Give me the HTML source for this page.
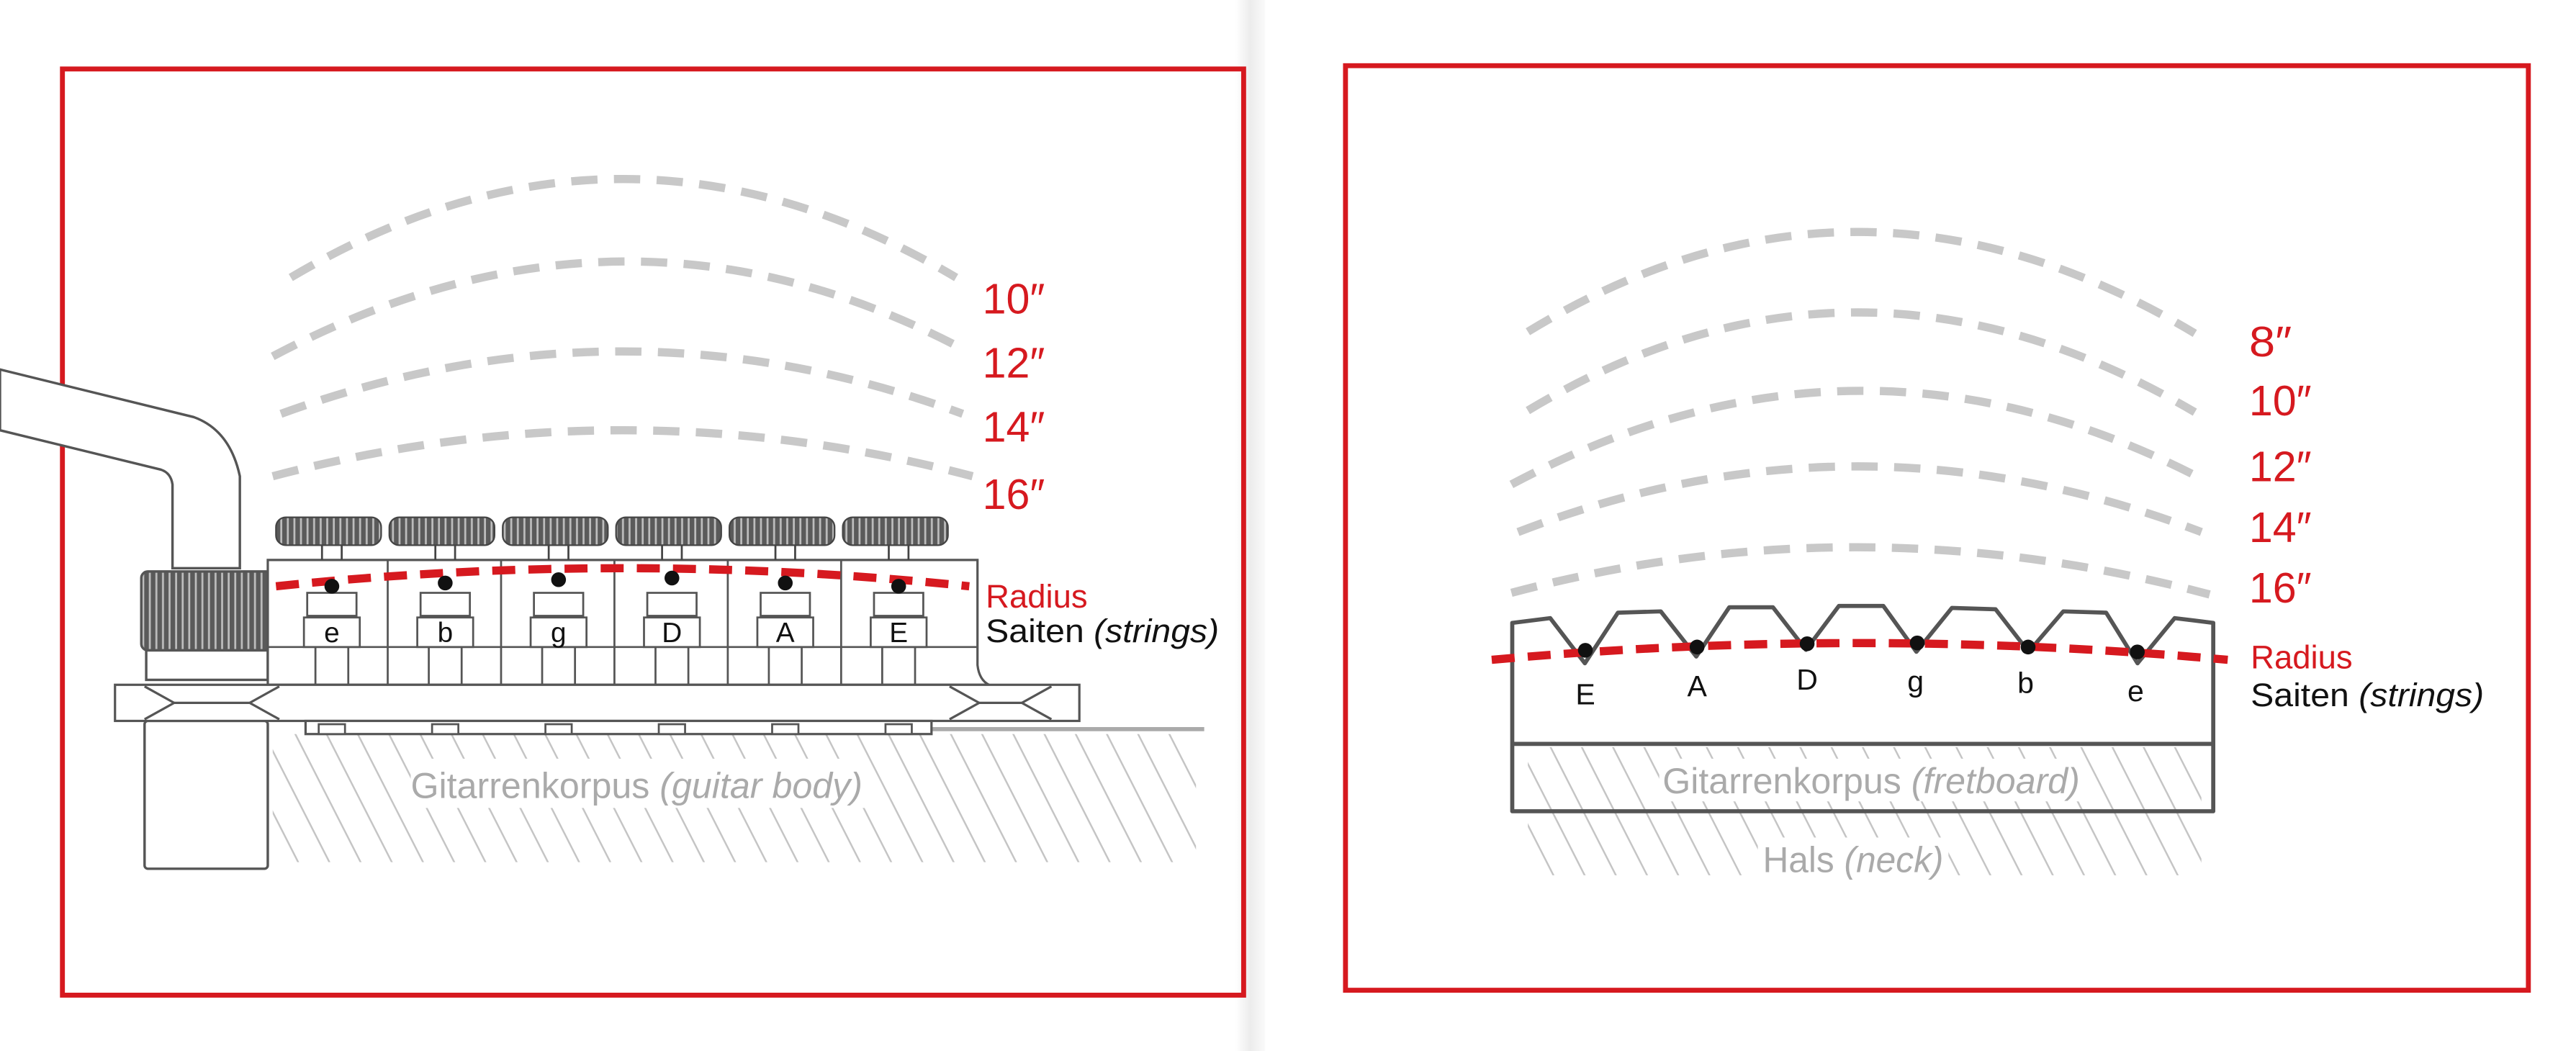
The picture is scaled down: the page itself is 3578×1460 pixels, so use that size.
<!DOCTYPE html>
<html><head><meta charset="utf-8"><style>
html,body{margin:0;padding:0;background:#fff;}
svg{display:block;}
text{font-family:"Liberation Sans",sans-serif;}
</style></head><body>
<svg width="3578" height="1460" viewBox="0 0 1568 640" preserveAspectRatio="none" xmlns="http://www.w3.org/2000/svg">
<defs>
<pattern id="knurl" width="4" height="10" patternUnits="userSpaceOnUse">
<rect width="4" height="10" fill="#5a5a5a"/><rect x="2.6" width="1.2" height="10" fill="#bdbdbd"/>
</pattern>
<pattern id="hatch" width="19" height="80" patternUnits="userSpaceOnUse" patternTransform="skewX(27)">
<line x1="9" y1="0" x2="9" y2="80" stroke="#c4c4c4" stroke-width="1.2"/>
</pattern>
<linearGradient id="edge" x1="0" x2="1"><stop offset="0" stop-color="#fff"/><stop offset="0.5" stop-color="#ececec"/><stop offset="1" stop-color="#fafafa"/></linearGradient>
</defs>
<rect x="752" y="0" width="18" height="640" fill="url(#edge)"/>

<!-- LEFT PANEL -->
<rect x="38" y="42" width="719" height="564" fill="none" stroke="#d6191f" stroke-width="3"/>
<g fill="none" stroke="#c8c8c8" stroke-width="5" stroke-dasharray="16 10">
<path d="M177 169 Q379 49 582 169"/>
<path d="M166 217 Q379 104 585 212"/>
<path d="M171 252 Q379 176 586 252"/>
<path d="M166 290 Q379 234 592 290"/>
</g>
<g fill="#d6191f" font-size="26">
<text x="598" y="191" textLength="38" lengthAdjust="spacingAndGlyphs">10″</text>
<text x="598" y="230" textLength="38" lengthAdjust="spacingAndGlyphs">12″</text>
<text x="598" y="269" textLength="38" lengthAdjust="spacingAndGlyphs">14″</text>
<text x="598" y="310" textLength="38" lengthAdjust="spacingAndGlyphs">16″</text>
<text x="600" y="370" font-size="20" textLength="62" lengthAdjust="spacingAndGlyphs">Radius</text>
</g>
<text x="600" y="391" font-size="20" fill="#111" textLength="142" lengthAdjust="spacingAndGlyphs">Saiten <tspan font-style="italic">(strings)</tspan></text>

<!-- hatch left -->
<rect x="166" y="447" width="562" height="78" fill="url(#hatch)"/>
<rect x="250" y="462" width="278" height="30" fill="#fff"/>
<text x="250" y="486" font-size="22" fill="#aaa" textLength="275" lengthAdjust="spacingAndGlyphs">Gitarrenkorpus <tspan font-style="italic">(guitar body)</tspan></text>
<line x1="567" y1="444" x2="733" y2="444" stroke="#aaa" stroke-width="2.5"/>

<!-- jack arm -->
<g fill="#fff" stroke="#555" stroke-width="1.5">
<path d="M0 225 L118 254 Q140 262 146 290 L146 346 L105 346 L105 295 Q104 288 98 286 L0 262 Z"/>
<rect x="88" y="439" width="75" height="90" rx="2"/>
<rect x="89" y="396" width="74" height="18"/>
<rect x="86" y="348" width="80" height="48" rx="4" fill="url(#knurl)"/>
</g>

<!-- bridge -->
<g stroke="#555" stroke-width="1.4" fill="#fff">
<path d="M163 341 L595 341 L595 405 Q596 414 602 417 L163 417 Z"/>
<rect x="70" y="417" width="587" height="22"/>
<rect x="186" y="439" width="381" height="8"/>
<polyline points="88,418 106,428 88,438" fill="none"/>
<polyline points="170,418 152,428 170,438" fill="none"/>
<polyline points="106,428 152,428" fill="none"/>
<polyline points="640,418 622,428 640,438" fill="none"/>
<polyline points="578,418 596,428 578,438" fill="none"/>
<polyline points="596,428 622,428" fill="none"/>
</g>
<g stroke="#555" stroke-width="1.2" fill="#fff">
<line x1="236" y1="341" x2="236" y2="417"/><line x1="305" y1="341" x2="305" y2="417"/>
<line x1="374" y1="341" x2="374" y2="417"/><line x1="443" y1="341" x2="443" y2="417"/>
<line x1="512" y1="341" x2="512" y2="417"/>
<line x1="163" y1="394" x2="595" y2="394"/>
</g>
<g stroke="#555" stroke-width="1.2" fill="#fff">
<!-- per saddle -->
<g transform="translate(202,0)"><rect x="-17" y="376" width="34" height="18"/><rect x="-15" y="361" width="30" height="14"/><line x1="-10" y1="394" x2="-10" y2="417"/><line x1="10" y1="394" x2="10" y2="417"/><rect x="-8" y="441" width="16" height="6"/></g>
<g transform="translate(271,0)"><rect x="-17" y="376" width="34" height="18"/><rect x="-15" y="361" width="30" height="14"/><line x1="-10" y1="394" x2="-10" y2="417"/><line x1="10" y1="394" x2="10" y2="417"/><rect x="-8" y="441" width="16" height="6"/></g>
<g transform="translate(340,0)"><rect x="-17" y="376" width="34" height="18"/><rect x="-15" y="361" width="30" height="14"/><line x1="-10" y1="394" x2="-10" y2="417"/><line x1="10" y1="394" x2="10" y2="417"/><rect x="-8" y="441" width="16" height="6"/></g>
<g transform="translate(409,0)"><rect x="-17" y="376" width="34" height="18"/><rect x="-15" y="361" width="30" height="14"/><line x1="-10" y1="394" x2="-10" y2="417"/><line x1="10" y1="394" x2="10" y2="417"/><rect x="-8" y="441" width="16" height="6"/></g>
<g transform="translate(478,0)"><rect x="-17" y="376" width="34" height="18"/><rect x="-15" y="361" width="30" height="14"/><line x1="-10" y1="394" x2="-10" y2="417"/><line x1="10" y1="394" x2="10" y2="417"/><rect x="-8" y="441" width="16" height="6"/></g>
<g transform="translate(547,0)"><rect x="-17" y="376" width="34" height="18"/><rect x="-15" y="361" width="30" height="14"/><line x1="-10" y1="394" x2="-10" y2="417"/><line x1="10" y1="394" x2="10" y2="417"/><rect x="-8" y="441" width="16" height="6"/></g>
</g>
<!-- wheels -->
<g stroke="#444" stroke-width="1.2">
<line x1="196" y1="332" x2="196" y2="341"/><line x1="208" y1="332" x2="208" y2="341"/>
<line x1="265" y1="332" x2="265" y2="341"/><line x1="277" y1="332" x2="277" y2="341"/>
<line x1="334" y1="332" x2="334" y2="341"/><line x1="346" y1="332" x2="346" y2="341"/>
<line x1="403" y1="332" x2="403" y2="341"/><line x1="415" y1="332" x2="415" y2="341"/>
<line x1="472" y1="332" x2="472" y2="341"/><line x1="484" y1="332" x2="484" y2="341"/>
<line x1="541" y1="332" x2="541" y2="341"/><line x1="553" y1="332" x2="553" y2="341"/>
</g>
<g fill="url(#knurl)" stroke="#444" stroke-width="1">
<rect x="168" y="315" width="64" height="17" rx="6"/>
<rect x="237" y="315" width="64" height="17" rx="6"/>
<rect x="306" y="315" width="64" height="17" rx="6"/>
<rect x="375" y="315" width="64" height="17" rx="6"/>
<rect x="444" y="315" width="64" height="17" rx="6"/>
<rect x="513" y="315" width="64" height="17" rx="6"/>
</g>
<path d="M168 357 Q379 335 590 357" fill="none" stroke="#d6191f" stroke-width="5" stroke-dasharray="14 8"/>
<g fill="#111">
<circle cx="202" cy="357" r="4.5"/><circle cx="271" cy="355" r="4.5"/><circle cx="340" cy="353" r="4.5"/>
<circle cx="409" cy="352" r="4.5"/><circle cx="478" cy="355" r="4.5"/><circle cx="547" cy="357" r="4.5"/>
</g>
<g font-size="17" fill="#111" text-anchor="middle">
<text x="202" y="391">e</text><text x="271" y="391">b</text><text x="340" y="391">g</text>
<text x="409" y="391">D</text><text x="478" y="391">A</text><text x="547" y="391">E</text>
</g>

<!-- RIGHT PANEL -->
<rect x="819" y="40" width="720" height="563" fill="none" stroke="#d6191f" stroke-width="3"/>
<g fill="none" stroke="#c8c8c8" stroke-width="5" stroke-dasharray="16 10">
<path d="M930 202 Q1130 80 1336 203"/>
<path d="M930 250 Q1130 130 1336 251"/>
<path d="M920 295 Q1130 183 1339 291"/>
<path d="M924 324 Q1130 244 1340 324"/>
<path d="M920 361 Q1130 305 1345 362"/>
</g>
<g fill="#d6191f" font-size="26">
<text x="1369" y="217" textLength="26" lengthAdjust="spacingAndGlyphs">8″</text>
<text x="1369" y="253" textLength="38" lengthAdjust="spacingAndGlyphs">10″</text>
<text x="1369" y="293" textLength="38" lengthAdjust="spacingAndGlyphs">12″</text>
<text x="1369" y="330" textLength="38" lengthAdjust="spacingAndGlyphs">14″</text>
<text x="1369" y="367" textLength="38" lengthAdjust="spacingAndGlyphs">16″</text>
<text x="1370" y="407" font-size="20" textLength="62" lengthAdjust="spacingAndGlyphs">Radius</text>
</g>
<text x="1370" y="430" font-size="20" fill="#111" textLength="142" lengthAdjust="spacingAndGlyphs">Saiten <tspan font-style="italic">(strings)</tspan></text>

<rect x="930" y="455" width="410" height="78" fill="url(#hatch)"/>
<rect x="1010" y="462" width="258" height="26" fill="#fff"/>
<rect x="1070" y="510" width="116" height="26" fill="#fff"/>
<text x="1012" y="483" font-size="22" fill="#aaa" textLength="254" lengthAdjust="spacingAndGlyphs">Gitarrenkorpus <tspan font-style="italic">(fretboard)</tspan></text>
<text x="1073" y="531" font-size="22" fill="#aaa" textLength="110" lengthAdjust="spacingAndGlyphs">Hals <tspan font-style="italic">(neck)</tspan></text>

<g fill="none" stroke="#555" stroke-width="2.5" stroke-linejoin="round">
<path d="M920.5 379.3 L943.6 376.4 L964.7 403.9 L984.8 373.1 L1010.9 372.3 L1032.5 399.8 L1052.6 369.8 L1079.2 369.8 L1099.3 395.7 L1119.3 369 L1146.4 369 L1166.5 396.9 L1188.1 370.2 L1214.7 371 L1234.8 396.9 L1255.9 372.3 L1282 373.1 L1301.1 403.9 L1323.7 376.4 L1347.2 379.3 L1347.2 494 L920.5 494 Z"/>
<line x1="920.5" y1="453" x2="1347.2" y2="453"/>
</g>
<path d="M908 401.8 Q1130 381.4 1356 401.8" fill="none" stroke="#d6191f" stroke-width="5" stroke-dasharray="14 8"/>
<g fill="#111">
<circle cx="965" cy="396" r="4.5"/><circle cx="1033" cy="394" r="4.5"/><circle cx="1100" cy="392" r="4.5"/>
<circle cx="1167" cy="391.5" r="4.5"/><circle cx="1234.5" cy="394" r="4.5"/><circle cx="1301" cy="397" r="4.5"/>
</g>
<g font-size="18" fill="#111" text-anchor="middle">
<text x="965" y="429">E</text><text x="1033" y="424">A</text><text x="1100" y="420">D</text>
<text x="1166" y="421">g</text><text x="1233" y="422">b</text><text x="1300" y="427">e</text>
</g>
</svg>
</body></html>
